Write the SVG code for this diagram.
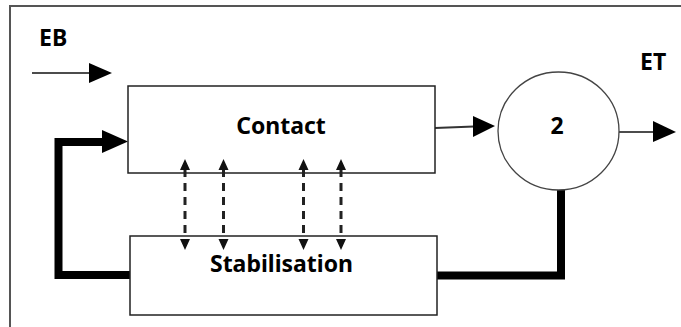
<svg xmlns="http://www.w3.org/2000/svg" width="681" height="327" viewBox="0 0 681 327">
<defs>
<style>
.lbl{font-family:"Noto Sans","Open Sans","Liberation Sans",sans-serif;font-weight:bold;font-size:23px;fill:#000}
.box{fill:#fff;stroke:#222;stroke-width:1.5}
.thick{fill:none;stroke:#000;stroke-width:8;stroke-linejoin:miter}
.thin{fill:none;stroke:#111;stroke-width:1.5}
.dash{fill:none;stroke:#222;stroke-width:3;stroke-dasharray:8 6}
</style>
</defs>
<rect width="681" height="327" fill="#fff"/>
<path d="M10,327 V6 H681" fill="none" stroke="#555" stroke-width="2"/>

<g id="connectors">
<line class="thin" x1="32" y1="73" x2="90" y2="73"/>
<path d="M89,63 L112,73 L89,83 Z" fill="#000"/>
<line x1="435" y1="128" x2="474" y2="126.5" stroke="#333" stroke-width="2"/>
<path d="M473,116 L495,126 L473,137 Z" fill="#000"/>
<line class="thin" x1="619" y1="132" x2="654" y2="132"/>
<path d="M653,121 L676,132 L653,142 Z" fill="#000"/>
<path class="thick" d="M130,275 H58.5 V142 H104"/>
<path d="M102,130 L128,141.5 L102,153 Z" fill="#000"/>
<path class="thick" d="M561,189 V275.5 H437"/>
<g>
<line class="dash" x1="185" y1="169" x2="185" y2="240"/>
<line class="dash" x1="223.5" y1="169" x2="223.5" y2="240"/>
<line class="dash" x1="303.5" y1="169" x2="303.5" y2="240"/>
<line class="dash" x1="341" y1="169" x2="341" y2="240"/>
<path d="M180,170 L185,159 L190,170 Z M180,239 L185,250 L190,239 Z" fill="#111"/>
<path d="M218.5,170 L223.5,159 L228.5,170 Z M218.5,239 L223.5,250 L228.5,239 Z" fill="#111"/>
<path d="M298.5,170 L303.5,159 L308.5,170 Z M298.5,239 L303.5,250 L308.5,239 Z" fill="#111"/>
<path d="M336,170 L341,159 L346,170 Z M336,239 L341,250 L346,239 Z" fill="#111"/>
</g>
</g>

<g id="contact">
<rect class="box" x="128" y="86" width="307" height="87" fill-opacity="0"/>
<text class="lbl" x="281" y="134" text-anchor="middle">Contact</text>
</g>
<g id="stabilisation">
<rect class="box" x="130" y="236" width="307" height="79" fill-opacity="0"/>
<text class="lbl" x="281.5" y="272" text-anchor="middle">Stabilisation</text>
</g>
<g id="node2">
<ellipse cx="558.5" cy="131" rx="60.5" ry="59" fill="#fff" stroke="#444" stroke-width="1.3"/>
<text class="lbl" x="557" y="134" text-anchor="middle">2</text>
</g>
<g id="eb"><text class="lbl" x="39" y="46">EB</text></g>
<g id="et"><text class="lbl" x="640" y="70">ET</text></g>
</svg>
